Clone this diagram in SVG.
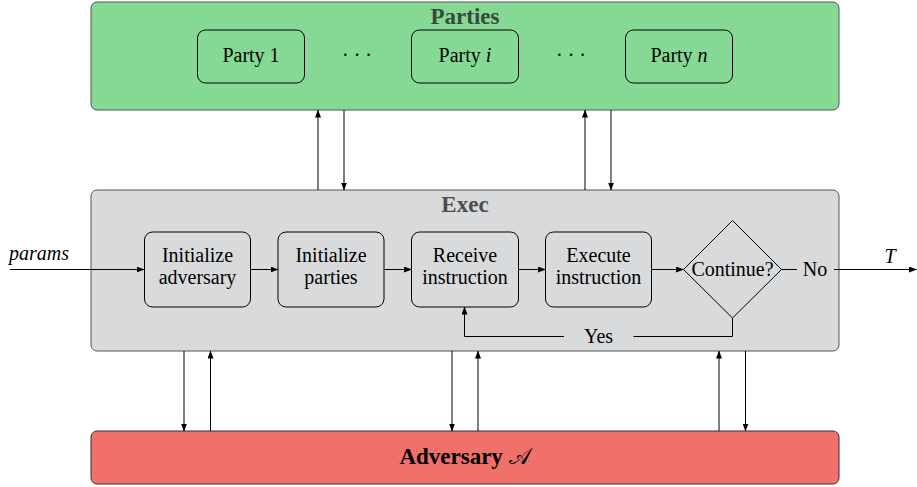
<svg xmlns="http://www.w3.org/2000/svg" width="917" height="487" viewBox="0 0 917 487">
<style>
text{font-family:"Liberation Serif","DejaVu Serif",serif;font-size:20px;fill:#000;text-anchor:middle}
.title{font-weight:bold;font-size:23px}
.it{font-style:italic}
.box{fill:none;stroke:#000;stroke-width:1}
.c{fill:none;stroke:#000;stroke-width:1}
</style>
<defs>
<marker id="ah" markerWidth="8" markerHeight="6" refX="7.5" refY="3" orient="auto" markerUnits="userSpaceOnUse">
<path d="M0,0 L8,3 L0,6 Z" fill="#000"/>
</marker>
</defs>
<g id="parties">
<rect x="91" y="2" width="748" height="108" rx="6" fill="#86d994" stroke="#555" stroke-width="1"/>
<text class="title" x="465" y="24" style="fill:#364b3a">Parties</text>
</g>
<g id="party1"><rect class="box" x="197.5" y="30" width="107" height="53" rx="8"/><text x="251" y="62">Party 1</text></g>
<g id="dots1"><text x="357" y="62">· · ·</text></g>
<g id="partyi"><rect class="box" x="411.5" y="30" width="107" height="53" rx="8"/><text x="465" y="62">Party <tspan class="it">i</tspan></text></g>
<g id="dots2"><text x="571" y="62">· · ·</text></g>
<g id="partyn"><rect class="box" x="625.5" y="30" width="107" height="53" rx="8"/><text x="679" y="62">Party <tspan class="it">n</tspan></text></g>
<g id="exec">
<rect x="91" y="190" width="748" height="161" rx="6" fill="#d9dadc" stroke="#555" stroke-width="1"/>
<text class="title" x="465" y="212" style="fill:#4d4d4d">Exec</text>
</g>
<g id="initadv"><rect class="box" x="144.5" y="232" width="106" height="75" rx="8"/><text x="197.5" y="262">Initialize</text><text x="197.5" y="284">adversary</text></g>
<g id="initpar"><rect class="box" x="278" y="232" width="106" height="75" rx="8"/><text x="331" y="262">Initialize</text><text x="331" y="284">parties</text></g>
<g id="receive"><rect class="box" x="411.5" y="232" width="107" height="75" rx="8"/><text x="465" y="262">Receive</text><text x="465" y="284">instruction</text></g>
<g id="execute"><rect class="box" x="545.5" y="232" width="106" height="75" rx="8"/><text x="598.5" y="262">Execute</text><text x="598.5" y="284">instruction</text></g>
<g id="continue"><path class="box" d="M732.5,220.5 L781.5,269.5 L732.5,318 L683.5,269.5 Z"/><text x="732.5" y="276">Continue?</text></g>
<g id="adversary">
<rect x="91" y="431" width="748" height="53" rx="6" fill="#ef7169" stroke="#333" stroke-width="1"/>
<text x="465" y="464" style="font-weight:bold;font-size:23px">Adversary <tspan style="font-weight:normal;font-family:'DejaVu Sans',serif">𝒜</tspan></text>
</g>
<g id="labels">
<text class="it" x="39" y="260">params</text>
<text class="it" x="890" y="263">T</text>
<text x="815" y="276">No</text>
<text x="598.5" y="343">Yes</text>
</g>
<g id="connectors">
<line class="c" x1="10" y1="269.5" x2="144" y2="269.5" marker-end="url(#ah)"/>
<line class="c" x1="250.5" y1="269.5" x2="278" y2="269.5" marker-end="url(#ah)"/>
<line class="c" x1="384" y1="269.5" x2="411.5" y2="269.5" marker-end="url(#ah)"/>
<line class="c" x1="518.5" y1="269.5" x2="545.5" y2="269.5" marker-end="url(#ah)"/>
<line class="c" x1="651.5" y1="269.5" x2="683.5" y2="269.5" marker-end="url(#ah)"/>
<line class="c" x1="781.5" y1="269.5" x2="797" y2="269.5"/>
<line class="c" x1="834" y1="269.5" x2="916.5" y2="269.5" marker-end="url(#ah)"/>
<polyline class="c" points="732.5,318 732.5,336.5 633.5,336.5"/>
<polyline class="c" points="564,336.5 464.5,336.5 464.5,307" marker-end="url(#ah)"/>
<line class="c" x1="318" y1="190" x2="318" y2="110" marker-end="url(#ah)"/>
<line class="c" x1="344" y1="110" x2="344" y2="190" marker-end="url(#ah)"/>
<line class="c" x1="585" y1="190" x2="585" y2="110" marker-end="url(#ah)"/>
<line class="c" x1="611" y1="110" x2="611" y2="190" marker-end="url(#ah)"/>
<line class="c" x1="184" y1="351" x2="184" y2="431" marker-end="url(#ah)"/>
<line class="c" x1="210.5" y1="431" x2="210.5" y2="351" marker-end="url(#ah)"/>
<line class="c" x1="452" y1="351" x2="452" y2="431" marker-end="url(#ah)"/>
<line class="c" x1="478" y1="431" x2="478" y2="351" marker-end="url(#ah)"/>
<line class="c" x1="719" y1="431" x2="719" y2="351" marker-end="url(#ah)"/>
<line class="c" x1="745.5" y1="351" x2="745.5" y2="431" marker-end="url(#ah)"/>
</g>
</svg>
